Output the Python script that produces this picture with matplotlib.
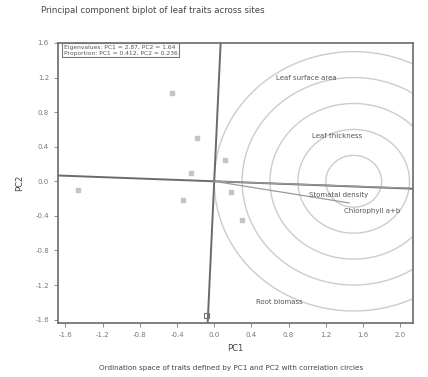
import numpy as np
import matplotlib
matplotlib.use("Agg")
import matplotlib.pyplot as plt

# ---- data ----
xticks = [-1.6, -1.2, -0.8, -0.4, 0.0, 0.4, 0.8, 1.2, 1.6, 2.0]
yticks = [-1.6, -1.2, -0.8, -0.4, 0.0, 0.4, 0.8, 1.2, 1.6]
score_x = [-0.45, -0.18, -0.25, -1.47, -0.34, 0.18, 0.30, 0.12]
score_y = [1.02, 0.50, 0.10, -0.10, -0.22, -0.12, -0.45, 0.25]
origin_marker = (-0.08, -1.55)
loading_names = ["Leaf surface area", "Leaf thickness", "Stomatal density",
                 "Chlorophyll a+b", "Root biomass"]
loading_x = [0.66, 1.05, 1.02, 1.40, 0.45]
loading_y = [1.20, 0.52, -0.16, -0.34, -1.40]
vector_ends_x = [2.10, 1.45]
vector_ends_y = [-0.08, -0.25]
ring_center = (1.5, 0.0)
ring_radii = [0.3, 0.6, 0.9, 1.2, 1.5]
axis_slope_h = -0.04
axis_slope_v = 0.043
legend_lines = ["Eigenvalues: PC1 = 2.87, PC2 = 1.64",
                "Proportion: PC1 = 0.412, PC2 = 0.236"]
title = "Principal component biplot of leaf traits across sites"
caption = "Ordination space of traits defined by PC1 and PC2 with correlation circles"

fig = plt.figure(figsize=(4.28, 3.77), dpi=100)
ax = fig.add_axes([0.1355, 0.143, 0.830, 0.743])
xlim = (-1.68, 2.14)
ylim = (-1.64, 1.60)

# rings
t = np.linspace(0, 2 * np.pi, 400)
for r in ring_radii:
    ax.plot(ring_center[0] + r * np.cos(t), ring_center[1] + r * np.sin(t),
            color="#cccccc", lw=1.0, zorder=1)

# rotated axes
xs = np.array(xlim)
ax.plot(xs, axis_slope_h * xs, color="#6a6a6a", lw=1.4, zorder=2)
ys = np.array(ylim)
ax.plot(axis_slope_v * ys, ys, color="#6a6a6a", lw=1.4, zorder=2)

# loading vectors (near-horizontal ones)
for vx, vy in zip(vector_ends_x, vector_ends_y):
    ax.plot([0, vx], [0, vy], color="#9a9a9a", lw=0.9, zorder=2)

for nx, ny, name in zip(loading_x, loading_y, loading_names):
    ax.text(nx, ny, name, fontsize=5, color="#555555", ha="left", va="center", zorder=4)

# scores
ax.scatter(score_x, score_y, s=5, color="#c4c4c4", marker="s", zorder=3)
ax.scatter([origin_marker[0]], [origin_marker[1]], s=14, facecolor="none",
           edgecolor="#777777", marker="s", lw=0.8, zorder=3)

ax.set_xlim(*xlim)
ax.set_ylim(*ylim)
ax.set_xticks(xticks)
ax.set_yticks(yticks)
ax.set_xticklabels([f"{v:.1f}" for v in xticks], fontsize=5, color="#555555")
ax.set_yticklabels([f"{v:.1f}" for v in yticks], fontsize=5, color="#555555")
ax.tick_params(length=3, width=0.6, colors="#777777")
for s in ax.spines.values():
    s.set_color("#6a6a6a")
    s.set_linewidth(1.2)

ax.set_xlabel("PC1", fontsize=6, color="#444444", labelpad=4)
ax.set_ylabel("PC2", fontsize=6, color="#444444", labelpad=8)

# legend box
ax.text(-1.62, 1.58, "\n".join(legend_lines), fontsize=4.3, color="#555555",
        ha="left", va="top", linespacing=1.3,
        bbox=dict(boxstyle="square,pad=0.25", fc="white", ec="#777777", lw=0.8),
        zorder=5)

fig.text(0.095, 0.972, title, fontsize=6.2, color="#444444", ha="left", va="center")
fig.text(0.54, 0.025, caption, fontsize=5.2, color="#444444", ha="center", va="center")

fig.savefig("out.png", dpi=100)
